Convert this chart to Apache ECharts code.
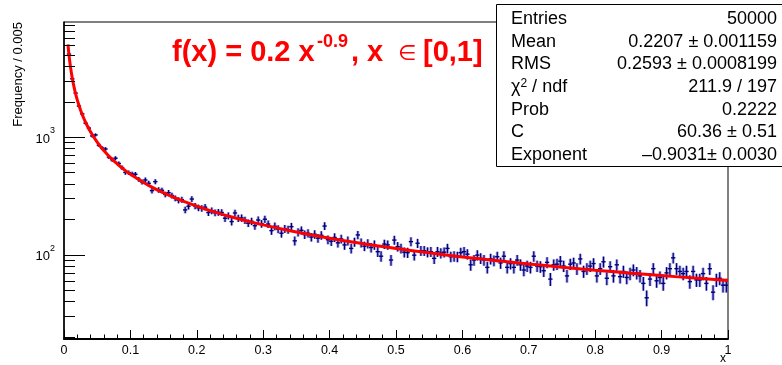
<!DOCTYPE html>
<html>
<head>
<meta charset="utf-8">
<script src="https://cdn.jsdelivr.net/npm/echarts@6/dist/echarts.min.js"></script>
<style>
  html, body { margin: 0; padding: 0; background: #fff; }
  #chart { width: 782px; height: 365px; }
</style>
</head>
<body>
<div id="chart"></div>
<script>
// histogram: 200 bins of width 0.005 on [0,1], first bin is off the top of the plot
const binWidth = 0.005;
const firstBinCenter = 0.0075;
const counts = [
  5060, 3120, 2360, 1830, 1570, 1310, 1190, 1020, 1040,
  850, 805, 790, 675, 640, 660, 595, 548, 500, 497,
  485, 482, 437, 415, 431, 404, 350, 417, 355, 352,
  325, 336, 318, 301, 290, 293, 240, 258, 297, 259,
  250, 247, 253, 228, 236, 227, 229, 228, 204, 214,
  191, 226, 204, 205, 196, 185, 192, 176, 197, 183,
  200, 182, 160, 174, 165, 152, 166, 163, 173, 131,
  155, 161, 148, 152, 141, 149, 138, 146, 175, 134,
  130, 140, 126, 136, 121, 131, 113, 128, 147, 126,
  118, 124, 115, 121, 106, 97, 123, 121, 90, 133,
  117, 113, 105, 104, 129, 99, 125, 108, 108, 105,
  106, 93, 106, 103, 105, 113, 96, 97, 96, 104,
  106, 101, 82, 90, 99, 93, 90, 78, 92, 89,
  96, 85, 97, 78, 84, 78, 90, 82, 74, 80,
  78, 97, 80, 79, 73, 86, 62, 82, 83, 88,
  80, 66, 83, 85, 76, 92, 72, 76, 80, 84,
  66, 76, 87, 63, 79, 66, 82, 65, 72, 64,
  69, 74, 70, 66, 57, 43, 62, 76, 60, 64,
  57, 70, 76, 94, 76, 72, 69, 72, 59, 72,
  61, 61, 69, 57, 76, 48, 61, 63, 55, 55
];

// fitted curve
const fitX = [0.006, 0.007, 0.008, 0.009, 0.01, 0.0125, 0.015, 0.0175, 0.02, 0.025, 0.03, 0.035,
  0.04, 0.05, 0.06, 0.07, 0.08, 0.09, 0.1, 0.125, 0.15, 0.2, 0.25, 0.3, 0.35, 0.4, 0.45,
  0.5, 0.55, 0.6, 0.65, 0.7, 0.75, 0.8, 0.85, 0.9, 0.95, 1.0];
const fitY = [6130, 5330, 4725, 4250, 3864, 3157, 2680, 2331, 2065, 1690, 1433, 1246,
  1105, 903, 766, 667, 591, 531, 483, 395, 335, 258, 211, 179, 156, 138, 124,
  113, 103.6, 95.7, 89.1, 83.3, 78.3, 73.8, 69.9, 66.4, 63.2, 60.4];

const yTickValues = [20, 30, 40, 50, 60, 70, 80, 90, 100, 200, 300, 400, 500, 600, 700, 800, 900,
  1000, 2000, 3000, 4000, 5000, 6000, 7000, 8000, 9000];

const statNames = ['Entries', 'Mean', 'RMS', '{t|χ}{s|2}{t| / ndf}', 'Prob', 'C', 'Exponent'];
const statValues = ['50000', '0.2207 ± 0.001159', '0.2593 ± 0.0008199', '211.9 / 197', '0.2222',
  '60.36 ± 0.51', '\u20130.9031± 0.0030'];

const FONT = '"Liberation Sans", Arial, Helvetica, sans-serif';

const histData = counts.map((c, i) => [firstBinCenter + i * binWidth, c]);
const fitData = fitX.map((x, i) => [x, fitY[i]]);

function renderErr(params, api) {
  const x = api.value(0), v = api.value(1), e = Math.sqrt(v);
  const c = api.coord([x, v]);
  const lo = api.coord([x, v - e]);
  const hi = api.coord([x, v + e]);
  const l = api.coord([x - binWidth / 2, v]);
  const r = api.coord([x + binWidth / 2, v]);
  return {
    type: 'group',
    children: [
      { type: 'line', shape: { x1: c[0], y1: lo[1], x2: c[0], y2: hi[1] },
        style: { stroke: 'rgba(70,70,200,0.45)', lineWidth: 3 } },
      { type: 'line', shape: { x1: c[0], y1: lo[1], x2: c[0], y2: hi[1] },
        style: { stroke: '#00007a', lineWidth: 1.2 } },
      { type: 'line', shape: { x1: l[0] - 0.5, y1: c[1], x2: r[0] + 0.5, y2: c[1] },
        style: { stroke: '#00007a', lineWidth: 1.4 } }
    ]
  };
}

function renderYTick(params, api) {
  const v = api.value(1);
  const p = api.coord([0, v]);
  const lg = Math.log10(v);
  const len = Math.abs(lg - Math.round(lg)) < 1e-6 ? 21 : 11;
  return {
    type: 'line',
    shape: { x1: p[0], y1: Math.round(p[1]) + 0.5, x2: p[0] + len, y2: Math.round(p[1]) + 0.5 },
    style: { stroke: '#000', lineWidth: 1 }
  };
}

const statGraphics = [{
  type: 'rect', z: 100,
  shape: { x: 496.5, y: 4.5, width: 290, height: 162 },
  style: { fill: '#fff', stroke: '#000', lineWidth: 1 }
}];
statNames.forEach((n, i) => {
  const y = 19 + i * 22.7;
  statGraphics.push({
    type: 'text', z: 101, x: 511, y: y,
    style: { text: n, fontSize: 18, fontFamily: FONT, fill: '#000', align: 'left', verticalAlign: 'middle',
      rich: { t: { fontSize: 18, fontFamily: FONT }, s: { fontSize: 12, fontFamily: FONT, verticalAlign: 'top', lineHeight: 14 } } }
  });
  statGraphics.push({
    type: 'text', z: 101, x: 777, y: y,
    style: { text: statValues[i], fontSize: 18, fontFamily: FONT, fill: '#000', align: 'right', verticalAlign: 'middle' }
  });
});

const titleGraphics = [
  { type: 'text', z: 90, x: 172, y: 53,
    style: { text: 'f(x) = 0.2 x', fontSize: 29, fontWeight: 'bold', fontFamily: FONT, fill: '#ff0000', verticalAlign: 'middle' } },
  { type: 'text', z: 90, x: 317, y: 42,
    style: { text: '-0.9', fontSize: 18, fontWeight: 'bold', fontFamily: FONT, fill: '#ff0000', verticalAlign: 'middle' } },
  { type: 'text', z: 90, x: 351, y: 53,
    style: { text: ', x', fontSize: 29, fontWeight: 'bold', fontFamily: FONT, fill: '#ff0000', verticalAlign: 'middle' } },
  { type: 'text', z: 90, x: 398, y: 55,
    style: { text: '\u2208', fontSize: 21, fontFamily: '"DejaVu Sans", ' + FONT, fill: '#ff0000', verticalAlign: 'middle' } },
  { type: 'text', z: 90, x: 423, y: 53,
    style: { text: '[0,1]', fontSize: 29, fontWeight: 'bold', fontFamily: FONT, fill: '#ff0000', verticalAlign: 'middle' } }
];

const axisTitles = [
  { type: 'text', z: 90, x: 18, y: 22, rotation: Math.PI / 2,
    style: { text: 'Frequency / 0.005', fontSize: 13, fontFamily: FONT, fill: '#000', align: 'right', verticalAlign: 'middle' } },
  { type: 'text', z: 90, x: 723, y: 359,
    style: { text: 'x', fontSize: 12, fontFamily: FONT, fill: '#000', align: 'center', verticalAlign: 'middle' } }
];

const chart = echarts.init(document.getElementById('chart'), null, { renderer: 'canvas' });
chart.setOption({
  animation: false,
  backgroundColor: '#fff',
  grid: { left: 64, right: 54, top: 22, bottom: 26, show: true, borderColor: '#000', borderWidth: 1, backgroundColor: '#fff' },
  xAxis: {
    type: 'value', min: 0, max: 1, interval: 0.1,
    axisLine: { show: true, onZero: false, lineStyle: { color: '#000', width: 2 } },
    axisTick: { show: true, inside: true, length: 9, lineStyle: { color: '#000', width: 1 } },
    minorTick: { show: true, splitNumber: 5, length: 4.5, lineStyle: { color: '#000', width: 1 } },
    axisLabel: { color: '#000', fontSize: 12.5, fontFamily: FONT, margin: 5, showMinLabel: true, showMaxLabel: true },
    splitLine: { show: false }
  },
  yAxis: {
    type: 'log', logBase: 10, min: 19.2, max: 9480,
    axisLine: { show: true, lineStyle: { color: '#000', width: 1.5 } },
    axisTick: { show: false },
    minorTick: { show: false },
    splitLine: { show: false },
    axisLabel: {
      margin: 9, color: '#000', fontFamily: FONT,
      formatter: function (v) {
        const lg = Math.log10(v);
        if (Math.abs(lg - Math.round(lg)) > 1e-6) return '';
        return '{a|10}{b|' + Math.round(lg) + '}';
      },
      rich: {
        a: { fontSize: 13, fontFamily: FONT, color: '#000', lineHeight: 22, padding: [4, 0, 0, 0] },
        b: { fontSize: 9, fontFamily: FONT, color: '#000', verticalAlign: 'top', lineHeight: 12 }
      }
    }
  },
  series: [
    {
      type: 'custom', name: 'ticks', silent: true, clip: false,
      renderItem: renderYTick,
      encode: { x: 0, y: 1 },
      data: yTickValues.map(v => [0, v]),
      z: 5
    },
    {
      type: 'custom', name: 'data', silent: true, clip: true,
      renderItem: renderErr,
      encode: { x: 0, y: 1 },
      data: histData,
      z: 3
    },
    {
      type: 'line', name: 'fit', silent: true,
      data: fitData, showSymbol: false, smooth: true, clip: true,
      lineStyle: { color: '#ff0000', width: 3 },
      z: 4
    }
  ],
  graphic: [].concat(titleGraphics, axisTitles, statGraphics)
});
</script>
</body>
</html>
